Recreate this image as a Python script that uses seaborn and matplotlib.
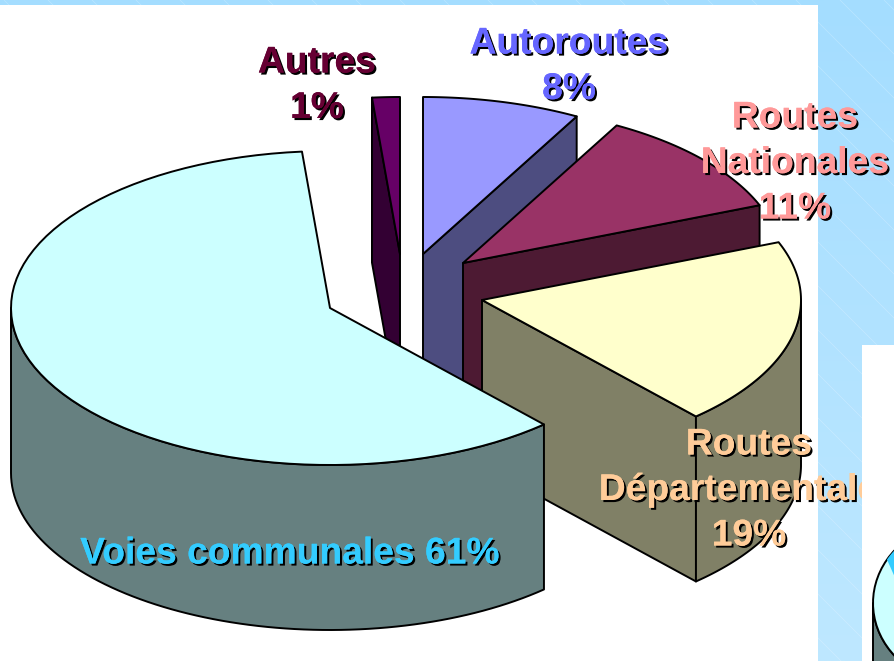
import matplotlib
import numpy as np
import seaborn as sns
from matplotlib import patheffects as pe
from matplotlib.colors import LinearSegmentedColormap
from matplotlib.patches import Polygon, Rectangle

matplotlib.use("Agg")
import matplotlib.pyplot as plt


# parts of the network, counter-clockwise from the Autoroutes edge
CATEGORIES = ["Autoroutes", "Autres", "Voies communales", "Routes Départementales", "Routes Nationales"]
SHARES = [8, 1.4, 60.3, 19.3, 11]
LABELS = [
    ["Autoroutes", "8%"],
    ["Autres", "1%"],
    ["Voies communales 61%"],
    ["Routes", "Départementales", "19%"],
    ["Routes", "Nationales", "11%"],
]

TOP_COLORS = ["#9999FF", "#660066", "#CCFFFF", "#FFFFCC", "#993366"]
SIDE_COLORS = ["#4D4D80", "#330033", "#668080", "#808066", "#4D1A33"]
TEXT_COLORS = ["#6666FF", "#660033", "#33CCFF", "#FFCC99", "#FF9999"]

CENTERS = [(423, 254), (400, 254), (330, 308), (482, 300), (463, 263)]
LABEL_POS = [(569, 44), (317, 63), (290, 554), (749, 445), (795, 118)]
DRAW_ORDER = [1, 0, 4, 3, 2]

START_ANGLE = 61.2
RX, RY, DEPTH = 319, 157, 165
LINE_STEP = 45.5


def arc(center, theta1, theta2, rx=RX, ry=RY):
    t = np.radians(np.linspace(theta1, theta2, 80))
    return np.column_stack([center[0] + rx * np.cos(t), center[1] - ry * np.sin(t)])


def draw_slice(ax, center, theta1, theta2, top, side, zorder, rx=RX, ry=RY, depth=DEPTH):
    style = {"edgecolor": "black", "linewidth": 1.4, "joinstyle": "round", "zorder": zorder}
    down = np.array([0, depth])
    c = np.array(center, dtype=float)

    # cut faces that look towards the viewer
    for angle, normal in [(theta1, theta1 - 90), (theta2, theta2 + 90)]:
        if theta2 - theta1 < 360 and np.sin(np.radians(normal)) < 0:
            edge = arc(center, angle, angle, rx, ry)[0]
            ax.add_patch(Polygon([c, edge, edge + down, c + down], facecolor=side, **style))

    # outer wall, front half of the ellipse only
    for low, high in [(180, 360), (540, 720)]:
        a, b = max(theta1, low), min(theta2, high)
        if b > a:
            rim = arc(center, a, b, rx, ry)
            ax.add_patch(Polygon(np.vstack([rim, rim[::-1] + down]), facecolor=side, **style))

    ax.add_patch(Polygon(np.vstack([c, arc(center, theta1, theta2, rx, ry)]), facecolor=top, **style))


def draw_background(ax):
    cmap = LinearSegmentedColormap.from_list("bg", ["#A4DDFF", "#BEE8FF"])
    ax.imshow(
        np.linspace(0, 1, 256).reshape(-1, 1),
        extent=(0, 894, 661, 0),
        cmap=cmap,
        aspect="auto",
        zorder=0,
    )
    for start in range(-700, 900, 44):
        ax.plot([start, start + 700], [0, 700], color="white", lw=0.5, alpha=0.25, zorder=1)
    ax.add_patch(Rectangle((0, 5), 818, 656, facecolor="white", edgecolor="none", zorder=2))


def draw_labels(ax):
    shadow = [
        pe.withSimplePatchShadow(offset=(1.5, -1.5), shadow_rgbFace="black", alpha=1.0),
        pe.Normal(),
    ]
    for lines, (x, y), color in zip(LABELS, LABEL_POS, TEXT_COLORS):
        for i, line in enumerate(lines):
            ax.text(
                x,
                y + i * LINE_STEP,
                line,
                ha="center",
                va="center",
                color=color,
                fontsize=26.8,
                fontweight="bold",
                path_effects=shadow,
                zorder=20,
            )


def draw_next_panel(ax):
    # edge of the next chart on the slide, mostly cut off
    ax.add_patch(Rectangle((862, 345), 40, 320, facecolor="white", edgecolor="none", zorder=30))
    center = (965, 603)
    draw_slice(ax, center, 0, 360, "#CCFFFF", "#668080", 31, rx=92, ry=82, depth=60)
    ax.add_patch(
        Polygon(
            np.vstack([[(897, 582)], arc(center, 140, 148, rx=92, ry=82)]),
            facecolor="#33CCFF",
            edgecolor="none",
            zorder=32,
        )
    )


def main():
    sns.set_theme(style="white")
    plt.rcParams["font.family"] = ["Liberation Sans", "DejaVu Sans"]

    fig, ax = plt.subplots(figsize=(8.94, 6.61), dpi=100)
    fig.subplots_adjust(0, 0, 1, 1)
    draw_background(ax)

    sweeps = np.array(SHARES) * 3.6
    starts = START_ANGLE + np.concatenate([[0], np.cumsum(sweeps)[:-1]])
    for z, i in enumerate(DRAW_ORDER):
        draw_slice(ax, CENTERS[i], starts[i], starts[i] + sweeps[i], TOP_COLORS[i], SIDE_COLORS[i], 5 + z)

    draw_labels(ax)
    draw_next_panel(ax)

    ax.set_xlim(0, 894)
    ax.set_ylim(661, 0)
    ax.axis("off")
    fig.savefig("out.png", dpi=100)
    plt.close(fig)


if __name__ == "__main__":
    main()
